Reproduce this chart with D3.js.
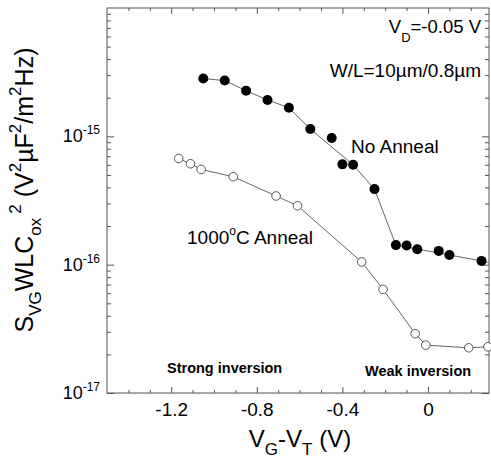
<!DOCTYPE html>
<html>
<head>
<meta charset="utf-8">
<script src="https://cdnjs.cloudflare.com/ajax/libs/d3/7.8.5/d3.min.js"></script>
<style>
  body { margin: 0; background: #fff; }
  svg { font-family: Arial, "Liberation Sans", sans-serif; }
  .axis path, .axis line { stroke: #555; stroke-width: 1; }
</style>
</head>
<body>
<script>
// No Anneal (filled circles)
var noAnnealX = [-1.05, -0.95, -0.85, -0.75, -0.65, -0.55, -0.45, -0.40, -0.35, -0.25, -0.15, -0.10, -0.05, 0.05, 0.10, 0.25];
var noAnnealY = [2.82e-15, 2.72e-15, 2.27e-15, 1.92e-15, 1.67e-15, 1.14e-15, 9.7e-16, 6.05e-16, 6.0e-16, 3.88e-16, 1.42e-16, 1.41e-16, 1.32e-16, 1.28e-16, 1.19e-16, 1.07e-16];
// the drawn guide line skips a couple of scattered points
var noAnnealLineX = [-1.05, -0.95, -0.85, -0.75, -0.65, -0.55, -0.35, -0.25, -0.15, 0.25, 0.285];
var noAnnealLineY = [2.82e-15, 2.72e-15, 2.27e-15, 1.92e-15, 1.67e-15, 1.14e-15, 6.0e-16, 3.88e-16, 1.42e-16, 1.07e-16, 1.04e-16];

// 1000 C Anneal (open circles)
var annealX = [-1.165, -1.11, -1.06, -0.91, -0.71, -0.61, -0.31, -0.21, -0.06, -0.01, 0.19, 0.28];
var annealY = [6.72e-16, 6.11e-16, 5.52e-16, 4.84e-16, 3.43e-16, 2.88e-16, 1.05e-16, 6.42e-17, 2.90e-17, 2.36e-17, 2.25e-17, 2.29e-17];

var xMajor = [-1.2, -0.8, -0.4, 0];
var xMinor = [-1.4, -1.3, -1.1, -1.0, -0.9, -0.7, -0.6, -0.5, -0.3, -0.2, -0.1, 0.1, 0.2];
var yMajor = [1e-17, 1e-16, 1e-15];
var yExp = ["-17", "-16", "-15"];

var W = 491, H = 464;
var pLeft = 107, pTop = 8, pRight = 489, pBottom = 393;

var svg = d3.select("body").append("svg")
    .attr("width", W)
    .attr("height", H);

var x = d3.scaleLinear().domain([-1.5, 0.285]).range([pLeft, pRight]);
var y = d3.scaleLog().domain([1e-17, 1e-14]).range([pBottom, pTop]);

// minor log ticks
var yMinor = [];
[1e-17, 1e-16, 1e-15].forEach(function (d) {
  for (var k = 2; k <= 9; k++) yMinor.push(d * k);
});

// frame
svg.append("rect")
    .attr("x", pLeft).attr("y", pTop)
    .attr("width", pRight - pLeft).attr("height", pBottom - pTop)
    .attr("fill", "none").attr("stroke", "#555").attr("stroke-width", 1);

// bottom axis
var gB = svg.append("g").attr("class", "axis").attr("transform", "translate(0," + pBottom + ")");
gB.call(d3.axisBottom(x).tickValues(xMajor).tickSize(-6).tickPadding(10).tickFormat(function (d) { return d === 0 ? "0" : d3.format(".1f")(d).replace("\u2212", "-"); }));
gB.append("g").call(d3.axisBottom(x).tickValues(xMinor).tickSize(-3).tickFormat(""));
gB.selectAll("path.domain").remove();
gB.selectAll("text").attr("font-size", 19).attr("fill", "#000").attr("font-family", "Arial, 'Liberation Sans', sans-serif");

// top axis
var gT = svg.append("g").attr("class", "axis").attr("transform", "translate(0," + pTop + ")");
gT.call(d3.axisTop(x).tickValues(xMajor).tickSize(-6).tickFormat(""));
gT.append("g").call(d3.axisTop(x).tickValues(xMinor).tickSize(-3).tickFormat(""));
gT.selectAll("path.domain").remove();

// left axis
var gL = svg.append("g").attr("class", "axis").attr("transform", "translate(" + pLeft + ",0)");
gL.call(d3.axisLeft(y).tickValues(yMajor).tickSize(-7).tickFormat(""));
gL.append("g").call(d3.axisLeft(y).tickValues(yMinor).tickSize(-4).tickFormat(""));
gL.selectAll("path.domain").remove();

// right axis
var gR = svg.append("g").attr("class", "axis").attr("transform", "translate(" + pRight + ",0)");
gR.call(d3.axisRight(y).tickValues(yMajor).tickSize(-7).tickFormat(""));
gR.append("g").call(d3.axisRight(y).tickValues(yMinor).tickSize(-4).tickFormat(""));
gR.selectAll("path.domain").remove();

// y tick labels with superscripts
var yl = svg.append("g").selectAll("text")
    .data(yMajor)
    .enter().append("text")
    .attr("x", 100)
    .attr("y", function (d) { return y(d) + 6; })
    .attr("text-anchor", "end")
    .attr("font-size", 18);
yl.append("tspan").text("10");
yl.append("tspan").attr("font-size", 12).attr("dy", -8).text(function (d, i) { return yExp[i]; });

// lines
var line = d3.line().x(function (d) { return x(d[0]); }).y(function (d) { return y(d[1]); });

svg.append("path")
    .datum(noAnnealLineX.map(function (d, i) { return [d, noAnnealLineY[i]]; }))
    .attr("d", line)
    .attr("fill", "none").attr("stroke", "#555").attr("stroke-width", 0.9);

svg.append("path")
    .datum(annealX.map(function (d, i) { return [d, annealY[i]]; }).concat([[0.285, 2.28e-17]]))
    .attr("d", line)
    .attr("fill", "none").attr("stroke", "#555").attr("stroke-width", 0.9);

// markers
svg.append("g").selectAll("circle")
    .data(noAnnealX)
    .enter().append("circle")
    .attr("cx", function (d) { return x(d); })
    .attr("cy", function (d, i) { return y(noAnnealY[i]); })
    .attr("r", 5)
    .attr("fill", "#000");

svg.append("g").selectAll("circle")
    .data(annealX)
    .enter().append("circle")
    .attr("cx", function (d) { return x(d); })
    .attr("cy", function (d, i) { return y(annealY[i]); })
    .attr("r", 4.3)
    .attr("fill", "#fff")
    .attr("stroke", "#444")
    .attr("stroke-width", 0.9);

// annotations
var vd = svg.append("text").attr("x", 481).attr("y", 33).attr("text-anchor", "end").attr("font-size", 18.5);
vd.append("tspan").text("V");
vd.append("tspan").attr("font-size", 13).attr("dy", 9).text("D");
vd.append("tspan").attr("dy", -9).text("=-0.05 V");

svg.append("text").attr("x", 481).attr("y", 77).attr("text-anchor", "end").attr("font-size", 19)
    .text("W/L=10\u00b5m/0.8\u00b5m");

svg.append("text").attr("x", 351).attr("y", 153).attr("font-size", 19).text("No Anneal");

var an = svg.append("text").attr("x", 187).attr("y", 244).attr("font-size", 19);
an.append("tspan").text("1000");
an.append("tspan").attr("font-size", 12).attr("dy", -9).text("o");
an.append("tspan").attr("dy", 9).text("C Anneal");

svg.append("text").attr("x", 167).attr("y", 373).attr("font-size", 14.5).attr("font-weight", "bold").text("Strong inversion");
svg.append("text").attr("x", 365).attr("y", 376).attr("font-size", 14.5).attr("font-weight", "bold").text("Weak inversion");

// x title
var xt = svg.append("text").attr("x", 300).attr("y", 447).attr("text-anchor", "middle").attr("font-size", 24);
xt.append("tspan").text("V");
xt.append("tspan").attr("font-size", 17).attr("dy", 8).text("G");
xt.append("tspan").attr("dy", -8).text("-V");
xt.append("tspan").attr("font-size", 17).attr("dy", 8).text("T");
xt.append("tspan").attr("dy", -8).text(" (V)");

// y title
var yt = svg.append("text")
    .attr("transform", "translate(33,190) rotate(-90)")
    .attr("text-anchor", "middle")
    .attr("font-size", 25);
yt.append("tspan").text("S");
yt.append("tspan").attr("font-size", 17).attr("dy", 8).text("VG");
yt.append("tspan").attr("dy", -8).text("WLC");
yt.append("tspan").attr("font-size", 17).attr("dy", 8).text("ox");
yt.append("tspan").attr("font-size", 17).attr("dy", -20).attr("dx", 4).text("2");
yt.append("tspan").attr("dy", 12).text(" (V");
yt.append("tspan").attr("font-size", 17).attr("dy", -12).text("2");
yt.append("tspan").attr("dy", 12).text("\u00b5F");
yt.append("tspan").attr("font-size", 17).attr("dy", -12).text("2");
yt.append("tspan").attr("dy", 12).text("/m");
yt.append("tspan").attr("font-size", 17).attr("dy", -12).text("2");
yt.append("tspan").attr("dy", 12).text("Hz)");
</script>
</body>
</html>
